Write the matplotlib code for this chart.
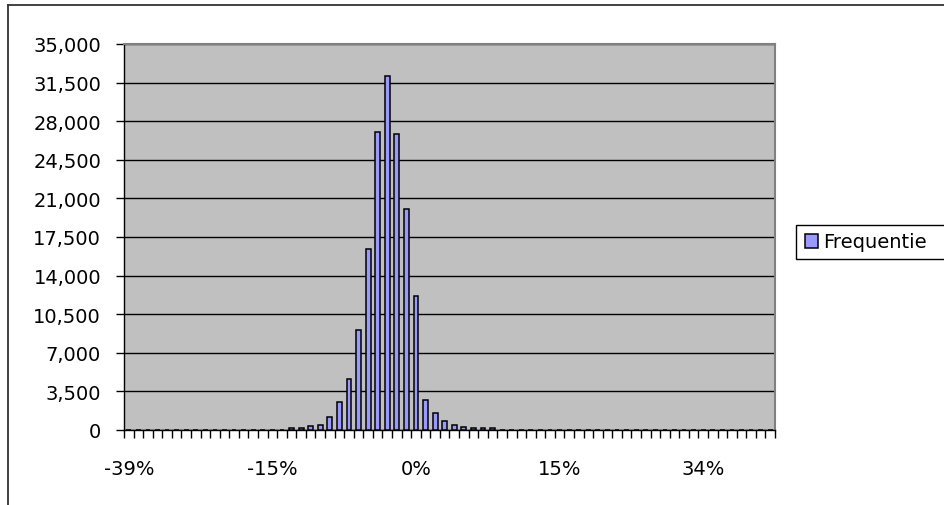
import matplotlib.pyplot as plt
import numpy as np
from matplotlib.lines import Line2D
from matplotlib.patches import Patch, Rectangle

# histogram bins: 68 categories, only a handful of them carry counts
n_bins = 68
first_filled = 17
counts_filled = [
    180, 180, 340, 490, 1180, 2550, 4610, 9040, 16400, 27040, 32130,
    26860, 20000, 12130, 2730, 1520, 820, 490, 310, 150, 150, 150,
]
tick_labels = ["-39%", "-15%", "0%", "15%", "34%"]
label_every = 15
y_ticks = list(range(0, 35001, 3500))

counts = np.zeros(n_bins)
counts[first_filled:first_filled + len(counts_filled)] = counts_filled

W, H = 945, 506
fig = plt.figure(figsize=(W / 100, H / 100), dpi=100)
plt.rcParams["font.family"] = ["DejaVu Sans"]

ax = fig.add_axes([124 / W, 1 - 431 / H, (775 - 124) / W, (431 - 45) / H])
ax.set_facecolor("#c0c0c0")

x = np.arange(n_bins)
ax.bar(x, counts, width=0.5, color="#9999ff", edgecolor="black",
       linewidth=1.1, zorder=3)

ax.set_xlim(-0.5, n_bins - 0.5)
ax.set_ylim(0, 35000)

ax.set_yticks(y_ticks)
ax.set_yticklabels([f"{v:,}" for v in y_ticks], fontsize=14)
ax.yaxis.grid(True, color="black", linewidth=1, zorder=1)
ax.set_axisbelow(True)
ax.tick_params(axis="y", direction="out", length=5.5, width=1, pad=11)

# tick marks sit on category boundaries, labels every 15th category
ax.set_xticks(np.arange(-0.5, n_bins, 1.0), minor=True)
ax.set_xticks(np.arange(0, n_bins, label_every)[:len(tick_labels)])
ax.set_xticklabels(tick_labels, fontsize=14)
ax.tick_params(axis="x", which="minor", direction="out", length=6, width=1)
ax.tick_params(axis="x", which="major", length=0, pad=21)

for side in ("top", "right"):
    ax.spines[side].set_color("#808080")
    ax.spines[side].set_linewidth(1.5)
for side in ("left", "bottom"):
    ax.spines[side].set_color("black")
    ax.spines[side].set_linewidth(1)

# chart frame, open to the right and bottom
fig.add_artist(Line2D([8.5 / W, 1.0], [1 - 5.5 / H, 1 - 5.5 / H],
                      color="#333333", linewidth=1.3, transform=fig.transFigure))
fig.add_artist(Line2D([8.5 / W, 8.5 / W], [1 - 5.5 / H, 0.0],
                      color="#333333", linewidth=1.3, transform=fig.transFigure))

# legend box runs off the right edge of the chart
fig.add_artist(Rectangle((796 / W, 1 - 260 / H), 160 / W, 34 / H,
                         facecolor="white", edgecolor="black", linewidth=1,
                         transform=fig.transFigure, clip_on=False))
handle = Patch(facecolor="#9999ff", edgecolor="black", linewidth=1.1)
fig.legend([handle], ["Frequentie"], loc="center left",
           bbox_to_anchor=(799 / W, 1 - 243 / H), fontsize=14,
           frameon=False, handlelength=0.7, handleheight=0.7,
           handletextpad=0.25, borderpad=0.3, borderaxespad=0)

fig.savefig("out.png", dpi=100)
